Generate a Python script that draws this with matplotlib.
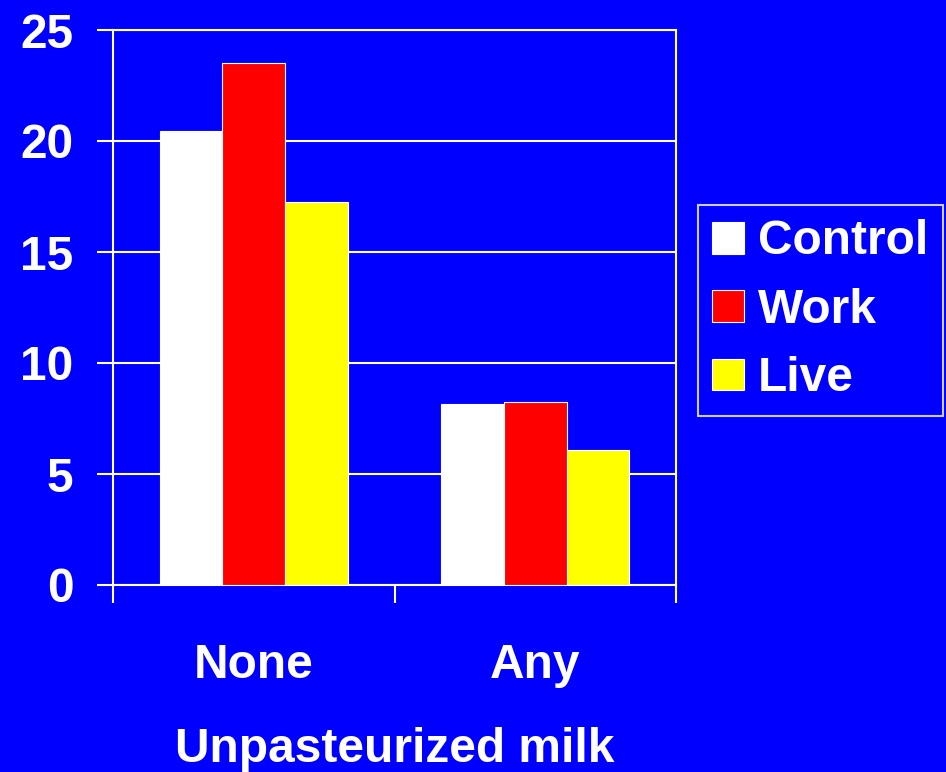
import matplotlib
matplotlib.use("Agg")
import matplotlib.pyplot as plt
import numpy as np

categories = ["None", "Any"]
series_names = ["Control", "Work", "Live"]
control = [20.45, 8.15]
work = [23.5, 8.25]
live = [17.25, 6.1]
yticks = [0, 5, 10, 15, 20, 25]
xlabel = "Unpasteurized milk"

BLUE = "#0000FF"
colors = ["#FFFFFF", "#FF0000", "#FFFF00"]

plt.rcParams["font.family"] = ["Liberation Sans", "DejaVu Sans"]
plt.rcParams["font.weight"] = "bold"

fig = plt.figure(figsize=(9.46, 7.72), dpi=100, facecolor=BLUE)
ax = fig.add_axes([113/946, 1-585/772, (676-113)/946, (585-30)/772])
ax.set_facecolor(BLUE)

x = np.arange(len(categories))
w = 0.223
for i, (vals, name, c) in enumerate(zip([control, work, live], series_names, colors)):
    ax.bar(x + (i-1)*w, vals, width=w, color=c, edgecolor="white", linewidth=0.8,
           label=name, zorder=3)

ax.set_ylim(0, 25)
ax.set_xlim(-0.5, 1.5)
ax.set_yticks(yticks)
ax.set_yticklabels([str(t) for t in yticks])
ax.yaxis.grid(True, color="white", linewidth=1.5, zorder=0)
ax.set_axisbelow(True)

ax.set_xticks([-0.5, 0.5, 1.5])
ax.set_xticklabels(["", "", ""])
ax.set_xticks(x, minor=True)
ax.set_xticklabels(categories, minor=True)
ax.tick_params(axis="x", which="major", length=13, width=1.5, color="white", direction="out")
ax.tick_params(axis="x", which="minor", length=0, pad=42, labelsize=34.5, labelcolor="white")
ax.tick_params(axis="y", length=11.5, width=1.5, color="white", direction="out",
               pad=17, labelsize=34.5, labelcolor="white")

for s in ["left", "right", "top", "bottom"]:
    ax.spines[s].set_color("white")
    ax.spines[s].set_linewidth(1.5)

ax.set_xlabel(xlabel, fontsize=34.5, color="white", fontweight="bold", labelpad=28)

leg = fig.legend(loc="upper left", bbox_to_anchor=(698/946, 1-205/772), borderaxespad=0,
                 fontsize=34.5, frameon=True, fancybox=False, facecolor=BLUE,
                 edgecolor="white", handlelength=0.65, handleheight=0.65,
                 handletextpad=0.3, labelspacing=0.49, borderpad=0.3)
leg.get_frame().set_linewidth(1.5)
for t in leg.get_texts():
    t.set_color("white")

fig.savefig("out.png", dpi=100, facecolor=BLUE)
